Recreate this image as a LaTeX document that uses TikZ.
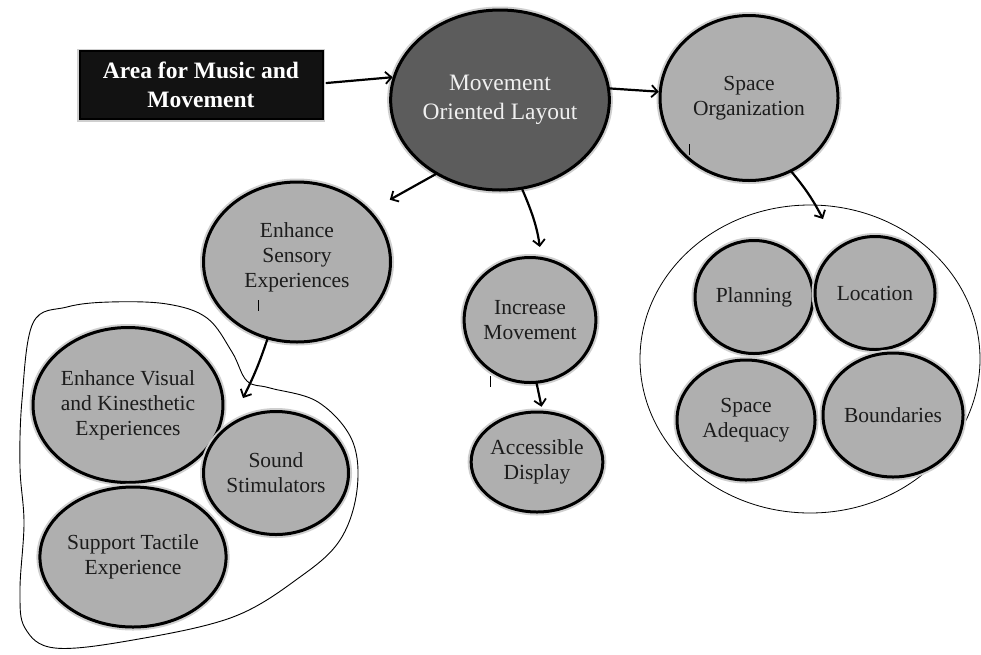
\documentclass[tikz,border=0pt]{standalone}
\usepackage{fontspec}
\setmainfont{Liberation Serif}
\usetikzlibrary{shapes.geometric,arrows.meta,calc}
\definecolor{darkbubble}{HTML}{5C5C5C}
\definecolor{lightbubble}{HTML}{AFAFAF}
\definecolor{halo}{HTML}{CFCFCF}
\definecolor{inktext}{HTML}{1C1C1C}
\begin{document}
\begin{tikzpicture}[x=1pt,y=-1pt,
  bubble/.style={ellipse, draw=black, line width=3pt, fill=lightbubble,
    inner sep=0pt, align=center, text=inktext,
    font=\fontsize{21.5}{25}\selectfont,
    preaction={draw=halo, line width=7pt}},
  darkbubble/.style={bubble, fill=darkbubble, text=white!94!black,
    font=\fontsize{23.5}{29}\selectfont},
  titlebox/.style={rectangle, draw=black, fill=black!93, line width=2pt,
    text=white, align=center, inner sep=0pt,
    font=\bfseries\fontsize{23.5}{29}\selectfont,
    preaction={draw=halo, line width=5pt}},
  groupring/.style={ellipse, draw=black, line width=0.8pt, inner sep=0pt},
  hand/.style={line width=2.2pt, line cap=round,
    -{Straight Barb[length=6pt,width=12pt,line width=1.8pt]}},
  tick/.style={line width=1pt}
]
\useasboundingbox[fill=white] (0,0) rectangle (981,654);

% outline around the sensory group
\draw[line width=0.9pt] plot[smooth cycle, tension=0.6] coordinates {
  (110,302) (167,304) (207,318) (232,352) (247,381) (270,388) (318,402)
  (352,440) (357,490) (340,540) (300,577) (233,617) (133,640) (55,648)
  (25,628) (20,590) (24,523) (20,467) (22,400) (33,323) (67,307)};

% ring around the space organization group
\node[groupring, minimum width=340pt, minimum height=308pt] (grp) at (810,359) {};

% main nodes
\node[titlebox, minimum width=243pt, minimum height=68pt] (box) at (201,85)
  {Area for Music and\\Movement};
\node[darkbubble, minimum width=205pt, minimum height=180pt] (mol) at (500,100)
  {Movement\\Oriented Layout};
\node[bubble, minimum width=178pt, minimum height=165pt] (so) at (749,98)
  {Space\\Organization};
\node[bubble, minimum width=187pt, minimum height=160pt] (es) at (297,262)
  {Enhance\\Sensory\\Experiences\\[-11pt]};
\node[bubble, minimum width=125pt, minimum height=125pt] (im) at (530,320)
  {Increase\\Movement};
\node[bubble, minimum width=110pt, minimum height=100pt] (ad) at (537,462)
  {Accessible\\Display};

% sensory group
\node[bubble, minimum width=187pt, minimum height=155pt] (evk) at (128,405)
  {Enhance Visual\\and Kinesthetic\\Experiences};
\node[bubble, minimum width=145pt, minimum height=123pt] (ss) at (276,473)
  {Sound\\Stimulators};
\node[bubble, minimum width=173pt, minimum height=140pt] (st) at (133,557)
  {Support Tactile\\Experience};

% space organization group
\node[bubble, minimum width=118pt, minimum height=113pt] (pl) at (754,297) {Planning};
\node[bubble, minimum width=120pt, minimum height=113pt] (lo) at (875,293) {Location};
\node[bubble, minimum width=138pt, minimum height=120pt] (sa) at (746,420)
  {Space\\Adequacy};
\node[bubble, minimum width=140pt, minimum height=124pt] (bd) at (893,415) {Boundaries};

% free ends of the arrows that point into the two groups
\coordinate (sensorytip) at (243,398);
\coordinate (spacetip) at (823,219);

% connectors
\draw[hand] (box.east) ++(3,-2) coordinate (boxout) -- (mol.168);
\draw[hand] (mol.6) -- (so.176);
\draw[hand, shorten >=22pt] (mol.229) -- (es.35);
\draw[hand, shorten >=10pt] (mol.284) to[bend left=8] (im.80);
\draw[hand, shorten >=4pt] (im.276) -- (ad.84);
\draw[hand] (es.249) to[bend left=4] (sensorytip);
\draw[hand] (so.300) to[bend left=6] (spacetip);

% small pen marks
\draw[tick] (258,300) -- (258,311);
\draw[tick] (490,376) -- (490,387);
\draw[tick] (689,144) -- (689,155);
\end{tikzpicture}
\end{document}
